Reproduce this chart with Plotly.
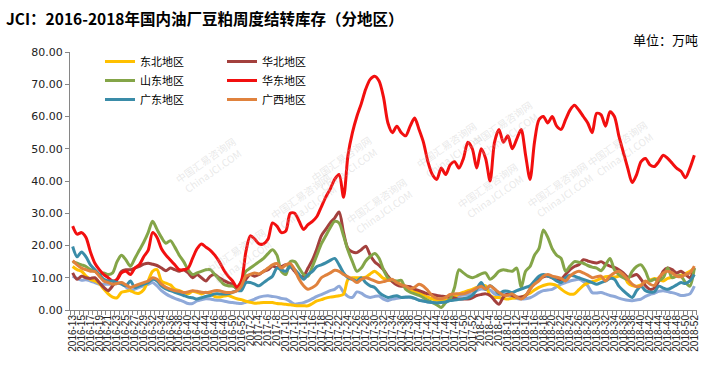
import plotly.graph_objects as go

# ---------------- categories (weeks) ----------------
weeks_2016 = list(range(13, 31)) + list(range(32, 53))
weeks_2017 = list(range(1, 53))
weeks_2018 = list(range(1, 6)) + list(range(8, 53))
categories = ([f"2016-{w}" for w in weeks_2016] +
              [f"2017-{w}" for w in weeks_2017] +
              [f"2018-{w}" for w in weeks_2018])

# ---------------- series values (万吨) ----------------
dongbei = [13.5, 12.5, 12, 10.5, 9.5, 9, 8.2, 6.5, 5, 4,
           3.8, 5.5, 5.8, 6, 5.3, 5.2, 6.3, 9, 12, 12.5,
           9, 8.3, 7.8, 6.5, 6, 5.4, 5, 5.8, 5.5, 5,
           5.5, 5, 4.2, 4, 4.3, 4.5, 4, 3.5, 3.2, 2.7,
           2.4, 2.1, 2.2, 2.3, 2.3, 2.3, 2, 1.9, 1.8, 1.6,
           1.4, 1.3, 1.3, 1.3, 2, 2.8, 3.2, 3.7, 4, 4.2,
           4.4, 4.9, 9.5, 10, 10, 10, 10.2, 11.2, 12, 11,
           9.8, 9.3, 9, 8.5, 8, 7.2, 6.2, 5.8, 5.2, 4.6,
           4, 3.4, 3.1, 2.9, 3, 3.4, 4.2, 5, 5.5, 6,
           6.4, 7, 7.4, 7.5, 4.5, 3.9, 3.9, 3.6, 3.4, 3.6,
           3.8, 4, 4.6, 5.2, 6.2, 7, 7.6, 8, 8, 7.6,
           6.5, 5.5, 4.9, 5, 6.3, 7.6, 8.3, 8.8, 9.2, 9.8,
           10.3, 10.5, 10.2, 10.5, 10.8, 8.5, 7.6, 7.4, 7.8, 8.6,
           9.2, 9.8, 9.5, 9, 9.8, 10.2, 10.5, 10.8, 11.3, 12,
           13]

huabei = [11.5, 9.5, 10.5, 10, 9.8, 10, 8.5, 7, 6, 7.5,
          9.5, 12, 12.5, 12.5, 13, 13.5, 14.2, 14.5, 14.2, 13.8,
          13, 12.2, 13, 12.5, 12, 12.5, 11.5, 10, 11, 10,
          9, 10.5, 11, 10, 9.2, 8.5, 8, 6.5, 7, 9.5,
          11, 10.5, 11, 12, 12.5, 13.6, 13.2, 13.5, 14, 13.6,
          12, 10.5, 10.5, 13, 15.5, 19, 23, 25, 27, 28.5,
          30.4, 24, 19, 18, 17.8, 18.7, 19.8, 17, 15, 13.8,
          12.5, 10.5, 8.8, 7.8, 7.4, 7.4, 7.2, 6.5, 6, 5.5,
          5, 4.8, 4.5, 4.3, 4.1, 4, 3.7, 3.4, 3.4, 3.4,
          3.8, 4.5, 4.8, 5, 4.5, 3, 1.8, 4, 5, 4.5,
          4, 4, 4.4, 6.5, 8.5, 9.5, 10.3, 10.5, 10, 9.3,
          9.5, 11, 12.5, 13.5, 14, 15.6, 15.2, 14.8, 14.6, 15,
          14.2, 13.6, 13.2, 12.5, 11.5, 10.2, 10.5, 11, 9.5, 7.5,
          6.4, 6.8, 9, 12, 13, 12.5, 11.5, 12, 11, 10,
          13]

shandong = [15, 14.5, 14, 13.5, 12.5, 12, 11, 11.5, 11, 11.5,
            15, 17, 15.5, 13.6, 16, 18.5, 21, 24, 27.5, 25,
            22.5, 20.7, 21.5, 19.5, 17, 15, 12.5, 11, 11.5, 12,
            12.5, 12.5, 11, 9.5, 8, 7.5, 7.4, 7, 9, 12,
            13, 14, 15, 16, 17.5, 18.7, 17, 12, 11, 15,
            15, 13, 11, 10.5, 13.5, 17, 20.5, 23, 25.5, 27.5,
            27, 23, 18.5, 15, 12, 13, 15.2, 16.6, 17.5, 16,
            12.5, 10, 9.3, 9, 9.2, 6.4, 5.5, 5, 4.5, 3.8,
            3, 2.3, 1.6, 0.8, 2.3, 3.4, 7, 12.5, 11.5, 10.5,
            10, 10.5, 11.2, 11.5, 9.5, 10.5, 12, 12.5, 12.2, 12,
            13, 7, 12, 13.5, 17, 19, 24.8, 22.5, 19, 17,
            16, 12, 13.6, 15, 14.8, 14.5, 13.8, 13.3, 13, 12.2,
            14, 16, 12.5, 11, 10, 9.5, 12, 13.5, 14, 12,
            9, 9.5, 9.2, 10, 13, 10, 10.5, 10.5, 8.5, 7.4,
            13]

huadong = [26, 23.5, 24, 22.5, 18, 14.5, 12.5, 11, 10, 9,
           9.5, 11.5, 12, 11, 13, 14, 16.5, 18.5, 24, 22.5,
           19, 17, 15.5, 14, 12.5, 12.5, 13, 16, 19, 20.5,
           19.5, 18.5, 17, 15, 12.5, 10.5, 9, 7, 9, 18,
           23, 22, 20.5, 20.5, 22, 27, 26, 24, 24.5, 30,
           30, 27.5, 25, 26.5, 27.5, 29, 32, 35, 37.5, 40.5,
           42, 35, 48, 55, 60, 64, 68.5, 71.5, 72.5, 71,
           66, 58, 55, 57, 55, 54, 57, 59.5, 56, 52,
           46, 42, 40.5, 44, 42, 45, 46, 44, 47, 52,
           50, 44, 50, 47, 40, 52, 56, 52, 54, 50,
           53, 56, 48, 40.5, 52, 59, 60, 58, 60, 57,
           56, 59, 62, 63.5, 62, 60, 58, 55, 61, 60.5,
           57, 61.5, 60, 54, 49, 44, 39.5, 42, 46, 47,
           45, 44.5, 46, 48, 47, 45.5, 44, 43, 41, 44,
           48]

guangdong = [19.7, 16.5, 18, 16.5, 14, 12.5, 11, 9.5, 9, 9,
             8.5, 8, 7.5, 9, 7, 7.5, 8, 8.5, 9.5, 9,
             7.5, 6.5, 6, 5.5, 5, 4.5, 4, 3.8, 3.4, 3.8,
             4.2, 4.5, 5, 5, 5, 5, 5.5, 6, 6, 8.5,
             8.5, 8, 7.5, 8.5, 9.5, 10.5, 13, 12.5, 12, 13.5,
             12.5, 11, 9.5, 11, 12, 13.5, 14, 14.6, 15.4, 16,
             14, 11.5, 10, 9.5, 9, 10, 8.5, 7.5, 7, 5.5,
             4.5, 3.9, 4.2, 4.4, 3.9, 4, 4, 3.6, 3, 2.8,
             2.5, 2.3, 2.2, 2.3, 2.5, 2.9, 3.1, 3.3, 3.5, 3.8,
             4.5, 6.5, 8.5, 6.4, 7.5, 6.5, 5, 5.8, 5.8, 5.4,
             6, 6.5, 7, 7.5, 9, 10.5, 11, 10.5, 10, 9,
             8.5, 10, 10.8, 10.5, 10, 9.5, 9, 8.5, 8, 8.5,
             9, 9.8, 9.5, 7.4, 6, 4.8, 3.9, 6, 7.4, 6,
             5.6, 5.6, 7.4, 6.8, 6.4, 7, 7.8, 8.5, 8.2, 9,
             11]

guangxi = [15.3, 14, 13, 12.5, 12, 12, 10.5, 9, 8.5, 8,
           8.2, 8.5, 7.8, 7, 7.5, 8, 8.5, 9, 10, 9.5,
           8, 7, 6.5, 6, 5.8, 5.4, 5.6, 6, 5.8, 5.5,
           5.4, 5.6, 6, 6, 5.6, 5.4, 5.5, 6, 7.5, 10.5,
           11, 11.5, 11.2, 12, 13, 14, 14.4, 13, 14, 14.4,
           12.5, 9.5, 7.5, 6.4, 7, 8, 10, 10.8, 11.5, 12.3,
           12, 11, 10.3, 9.5, 8.5, 9.5, 10, 9.6, 9, 8.5,
           8.8, 9.2, 9.5, 8.5, 7.8, 7.4, 6.6, 7, 8, 7.4,
           6, 4.4, 3.6, 3.5, 3.9, 4.8, 5, 5, 5, 5.5,
           6, 6.8, 7.4, 6.5, 7.5, 6.5, 5.4, 4.6, 4.6, 5,
           4, 3.4, 4.4, 6.5, 8, 9, 10.5, 11, 10.5, 10.2,
           9.8, 9, 10.5, 11.5, 12, 11.5, 10.8, 10, 10.3, 10.5,
           9, 10.5, 11.5, 12, 11, 9.5, 8, 7.2, 7.5, 9,
           8, 7.6, 10, 11.5, 12, 11.5, 10.5, 10.3, 11, 11.5,
           13.6]

qita = [10.5, 9.8, 9.2, 9.4, 9, 8.5, 8, 8, 8, 8,
        8.2, 8.5, 7.2, 6, 6.5, 7, 7.6, 8, 8.5, 7.5,
        6, 5, 4.2, 3.6, 3.1, 2.6, 2, 2, 2.8, 3.2,
        3.5, 3.4, 3.1, 3, 2.8, 2.5, 2.3, 2.1, 2, 2.4,
        2.8, 3.4, 4, 4.3, 4.4, 4.2, 4, 3.6, 3.4, 2.6,
        1.8, 2, 2.3, 2.8, 3.5, 4.2, 4.8, 5.4, 6, 6.4,
        7.4, 5.5, 4.2, 3.9, 5.6, 5.2, 4.3, 3.9, 4.2, 4.3,
        3.4, 2.9, 3.4, 3.6, 3.9, 3.9, 3.9, 3.6, 3.1, 2.8,
        2.5, 2.3, 2.4, 2.6, 2.9, 3.4, 4, 4.4, 4.6, 4.8,
        5, 6, 6.5, 6.4, 6.2, 5, 4.4, 5.2, 4.6, 3.9,
        3.6, 3.4, 3.5, 3.8, 4.5, 5.4, 6, 6.2, 6.4, 7.2,
        8, 8.5, 9, 9.3, 9.5, 8.8, 7.5, 5.4, 5.3, 5.4,
        5, 4.5, 4.2, 3.7, 3.3, 3, 2.9, 3.1, 3.4, 4.2,
        4.8, 5.2, 5.8, 6, 5.7, 5.4, 5, 4.5, 4.6, 5,
        7.4]

y_ticks = [0, 10, 20, 30, 40, 50, 60, 70, 80]
y_labels = ["0.00", "10.00", "20.00", "30.00", "40.00", "50.00", "60.00", "70.00", "80.00"]

# ---------------- figure ----------------
x = list(range(len(categories)))
CJK = "Noto Sans CJK SC"

series = [
    ("东北地区", dongbei, "#FFC000", "legend"),
    ("华北地区", huabei, "#A3403D", "legend2"),
    ("山东地区", shandong, "#84A548", "legend"),
    ("华东地区", huadong, "#F20F0F", "legend2"),
    ("广东地区", guangdong, "#3A8CA8", "legend"),
    ("广西地区", guangxi, "#E0823D", "legend2"),
]

fig = go.Figure()

# faint watermarks
wm = [(170, 165), (345, 130), (450, 150), (545, 95), (660, 115), (600, 190),
      (265, 235), (380, 240), (530, 225), (200, 290)]
for (px, py) in wm:
    fig.add_annotation(x=(px - 70) / 627, y=(310 - py) / 258, xref="paper", yref="paper",
                       text="中国汇易咨询网<br>ChinaJCI.COM", showarrow=False, textangle=-35,
                       font=dict(family=CJK, size=10, color="rgba(190,190,190,0.35)"))

fig.add_trace(go.Scatter(x=x, y=qita, mode="lines", name="其他地区", showlegend=False,
                         line=dict(color="#8FA9D9", width=3, shape="spline", smoothing=0.8),
                         hoverinfo="skip"))
for name, vals, col, lg in series:
    fig.add_trace(go.Scatter(x=x, y=vals, mode="lines", name=name, legend=lg,
                             line=dict(color=col, width=3, shape="spline", smoothing=0.8)))

leg_common = dict(font=dict(family=CJK, size=11, color="#000000"), bgcolor="rgba(0,0,0,0)",
                  orientation="v", xanchor="left", yanchor="top", tracegroupgap=0,
                  itemwidth=30)
fig.update_layout(
    width=721, height=377,
    margin=dict(l=70, r=24, t=52, b=67),
    paper_bgcolor="white", plot_bgcolor="white",
    title=dict(text="<b>JCI：2016-2018年国内油厂豆粕周度结转库存（分地区）</b>",
               font=dict(family=CJK, size=15.5, color="#000000"),
               xref="container", yref="container", x=6 / 721, xanchor="left",
               y=1 - 20 / 377, yanchor="middle"),
    legend=dict(x=(100 - 70) / 627, y=(310 - 47) / 258, **leg_common),
    legend2=dict(x=(222 - 70) / 627, y=(310 - 47) / 258, **leg_common),
    showlegend=True,
)

fig.update_xaxes(range=[-0.6, len(categories) - 0.4], tickmode="array",
                 tickvals=x[::2], ticktext=categories[::2], tickangle=-90,
                 ticks="", showline=True, linecolor="#868686", linewidth=1,
                 showgrid=False, zeroline=False,
                 tickfont=dict(family="Liberation Sans", size=10, color="#222222"),
                 minor=dict(ticks="outside", tickmode="linear", tick0=-0.5, dtick=1,
                            ticklen=4, tickcolor="#868686", showgrid=False))
fig.update_yaxes(range=[0, 80], tickmode="array", tickvals=y_ticks, ticktext=y_labels,
                 ticks="outside", ticklen=4, tickcolor="#868686",
                 showline=True, linecolor="#868686", linewidth=1,
                 showgrid=False, zeroline=False,
                 tickfont=dict(family="DejaVu Sans", size=11, color="#222222"))

fig.add_annotation(x=1.005, y=(310 - 40) / 258, xref="paper", yref="paper",
                   text="单位：万吨", showarrow=False, xanchor="right", yanchor="middle",
                   font=dict(family=CJK, size=13, color="#000000"))

fig.write_html("out.html", config={"displayModeBar": False},
               post_script="document.body.style.margin='0';")
